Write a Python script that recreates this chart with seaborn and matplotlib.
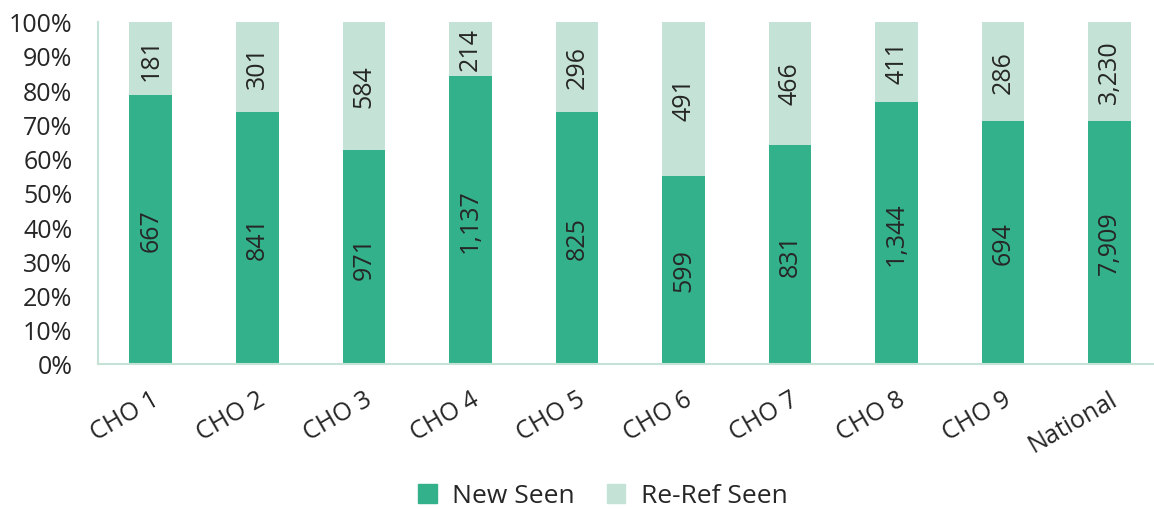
import matplotlib
matplotlib.use("Agg")
import matplotlib.pyplot as plt
import seaborn as sns
import pandas as pd
import numpy as np
from matplotlib.patches import Patch

categories = ["CHO 1", "CHO 2", "CHO 3", "CHO 4", "CHO 5", "CHO 6", "CHO 7", "CHO 8", "CHO 9", "National"]
new_seen = [667, 841, 971, 1137, 825, 599, 831, 1344, 694, 7909]
reref_seen = [181, 301, 584, 214, 296, 491, 466, 411, 286, 3230]
y_ticks = [0, 10, 20, 30, 40, 50, 60, 70, 80, 90, 100]

DARK = "#33b18b"
LIGHT = "#c4e3d6"
AXIS = "#c4e3d6"
TXT = "#262626"
FS = 18

sns.set_theme(style="white")
plt.rcParams["font.family"] = ["Open Sans", "DejaVu Sans"]

df = pd.DataFrame({"cat": categories, "new": new_seen, "reref": reref_seen})
df["total"] = df["new"] + df["reref"]
df["new_pct"] = df["new"] / df["total"] * 100
df["all_pct"] = 100.0

fig = plt.figure(figsize=(11.54, 5.10), dpi=100)
ax = fig.add_axes([97.5 / 1154, 1 - 365 / 510, (1163 - 97.5) / 1154, (365 - 22.5) / 510])

sns.barplot(data=df, x="cat", y="all_pct", color=LIGHT, width=0.4, ax=ax,
            saturation=1, edgecolor="none", linewidth=0)
sns.barplot(data=df, x="cat", y="new_pct", color=DARK, width=0.4, ax=ax,
            saturation=1, edgecolor="none", linewidth=0)

light_bars = ax.containers[0]
dark_bars = ax.containers[1]
for b, v, n in zip(light_bars, df["reref"], df["new_pct"]):
    x = b.get_x() + b.get_width() / 2
    ax.text(x, (n + 100) / 2, f"{v:,}", rotation=90, ha="center", va="center",
            fontsize=FS, color=TXT)
for b, v, n in zip(dark_bars, df["new"], df["new_pct"]):
    x = b.get_x() + b.get_width() / 2
    ax.text(x, n / 2, f"{v:,}", rotation=90, ha="center", va="center",
            fontsize=FS, color=TXT)

ax.set_ylim(0, 100)
ax.set_xlim(-0.5, len(categories) - 0.5)
ax.set_yticks(y_ticks)
ax.set_yticklabels([f"{t}%" for t in y_ticks], fontsize=FS, color=TXT)

ax.set_xticks(np.arange(len(categories) + 1) - 0.5, labels=[""] * (len(categories) + 1))
ax.set_xticks(np.arange(len(categories)), labels=categories, minor=True)
for lab in ax.get_xticklabels(minor=True):
    lab.set_rotation(30)
    lab.set_ha("right")
    lab.set_rotation_mode("anchor")
    lab.set_fontsize(FS)
    lab.set_color(TXT)
ax.tick_params(axis="x", which="minor", length=0, pad=16)
ax.tick_params(axis="x", which="major", length=7, width=1.5, color=AXIS, direction="out")
ax.tick_params(axis="y", length=8, width=1.5, color=AXIS, direction="out", pad=10)
ax.set_xlabel("")
ax.set_ylabel("")

for s in ["top", "right"]:
    ax.spines[s].set_visible(False)
for s in ["left", "bottom"]:
    ax.spines[s].set_color(AXIS)
    ax.spines[s].set_linewidth(1.5)

handles = [Patch(color=DARK, label="New Seen"), Patch(color=LIGHT, label="Re-Ref Seen")]
fig.legend(handles=handles, loc="center", bbox_to_anchor=(603 / 1154, 1 - 497 / 510),
           ncol=2, frameon=False, fontsize=19, handlelength=0.7, handleheight=0.7,
           columnspacing=1.2, handletextpad=0.6, labelcolor=TXT)

fig.savefig("out.png", dpi=100)
